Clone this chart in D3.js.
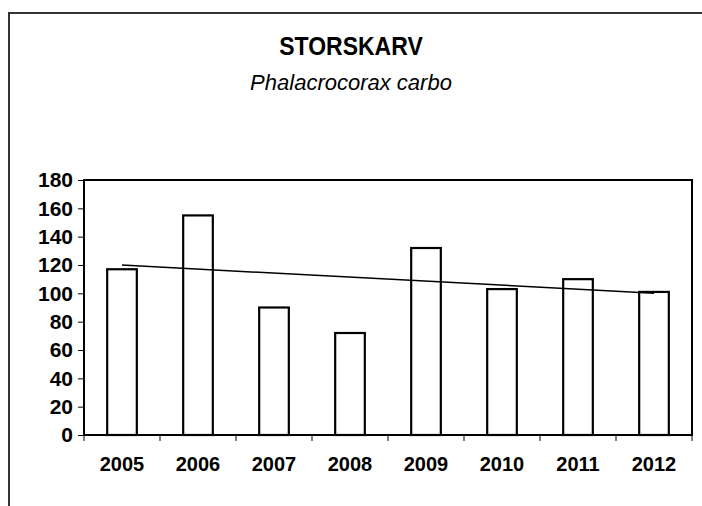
<!DOCTYPE html>
<html lang="en">
<head>
    <meta charset="UTF-8">
    <title>Storskarv</title>
    <script src="https://d3js.org/d3.v7.min.js"></script>
    <style>
        body { margin: 0; background: #fff; }
        svg { display: block; font-family: "Liberation Sans", Arial, sans-serif; }
    </style>
</head>
<body>
    <div id="chart"></div>
    <script>
        // Data
        const years = ["2005", "2006", "2007", "2008", "2009", "2010", "2011", "2012"];
        const counts = [117, 155, 90, 72, 132, 103, 110, 101];
        const yTicks = [0, 20, 40, 60, 80, 100, 120, 140, 160, 180];

        const width = 702;
        const height = 506;
        const plot = { left: 84, top: 180, right: 692, bottom: 435 };

        const svg = d3.select("#chart")
            .append("svg")
            .attr("width", width)
            .attr("height", height);

        // Outer frame (only left and top edges are in view)
        svg.append("path")
            .attr("d", `M9,${height + 5} V13 H${width + 5}`)
            .attr("fill", "none")
            .attr("stroke", "#333")
            .attr("stroke-width", 2);

        // Titles (the title is drawn a little taller than it is wide, as in the original)
        svg.append("text")
            .attr("transform", "translate(351,55) scale(1,1.15)")
            .attr("text-anchor", "middle")
            .attr("font-size", 23).attr("font-weight", "bold")
            .text("STORSKARV");
        svg.append("text")
            .attr("x", 351).attr("y", 90)
            .attr("text-anchor", "middle")
            .attr("font-size", 22).attr("font-style", "italic")
            .text("Phalacrocorax carbo");

        // Scales
        const x = d3.scaleBand()
            .domain(years)
            .range([plot.left, plot.right])
            .paddingInner(0.61)
            .paddingOuter(0.305);
        const xEdge = d3.scaleLinear()
            .domain([0, years.length])
            .range([plot.left, plot.right]);
        const y = d3.scaleLinear()
            .domain([0, 180])
            .range([plot.bottom, plot.top]);

        // Bars
        svg.append("g")
            .selectAll("rect")
            .data(counts)
            .join("rect")
            .attr("x", (d, i) => x(years[i]))
            .attr("y", d => y(d))
            .attr("width", x.bandwidth())
            .attr("height", d => y(0) - y(d))
            .attr("fill", "#fff")
            .attr("stroke", "#000")
            .attr("stroke-width", 2.2);

        // Linear trend line (least squares over the counts)
        const n = counts.length;
        const mx = (n - 1) / 2;
        const my = d3.mean(counts);
        const slope = d3.sum(counts, (d, i) => (i - mx) * (d - my)) / d3.sum(counts, (d, i) => (i - mx) * (i - mx));
        const trend = [0, n - 1].map(i => [x(years[i]) + x.bandwidth() / 2, y(my + slope * (i - mx))]);
        svg.append("path")
            .attr("d", d3.line()(trend))
            .attr("stroke", "#000")
            .attr("stroke-width", 1.5)
            .attr("fill", "none");

        // Plot area border
        svg.append("rect")
            .attr("x", plot.left).attr("y", plot.top)
            .attr("width", plot.right - plot.left)
            .attr("height", plot.bottom - plot.top)
            .attr("fill", "none")
            .attr("stroke", "#000")
            .attr("stroke-width", 2);

        // Y axis
        const yAxis = svg.append("g")
            .attr("transform", `translate(${plot.left},0)`)
            .call(d3.axisLeft(y).tickValues(yTicks).tickSize(6).tickPadding(5));
        yAxis.select(".domain").remove();
        yAxis.selectAll("line").attr("stroke", "#000").attr("stroke-width", 1);
        yAxis.selectAll("text")
            .attr("font-size", 21).attr("font-weight", "bold")
            .attr("font-family", "Liberation Sans, Arial, sans-serif")
            .attr("fill", "#000");

        // X axis: ticks on category edges, labels centred
        const xAxis = svg.append("g")
            .attr("transform", `translate(0,${plot.bottom})`);
        xAxis.selectAll("line")
            .data(d3.range(years.length + 1))
            .join("line")
            .attr("x1", d => xEdge(d)).attr("x2", d => xEdge(d))
            .attr("y1", 0).attr("y2", 6)
            .attr("stroke", "#000");
        xAxis.selectAll("text")
            .data(years)
            .join("text")
            .attr("x", d => x(d) + x.bandwidth() / 2)
            .attr("y", 36)
            .attr("text-anchor", "middle")
            .attr("font-size", 20).attr("font-weight", "bold")
            .text(d => d);
    </script>
</body>
</html>
